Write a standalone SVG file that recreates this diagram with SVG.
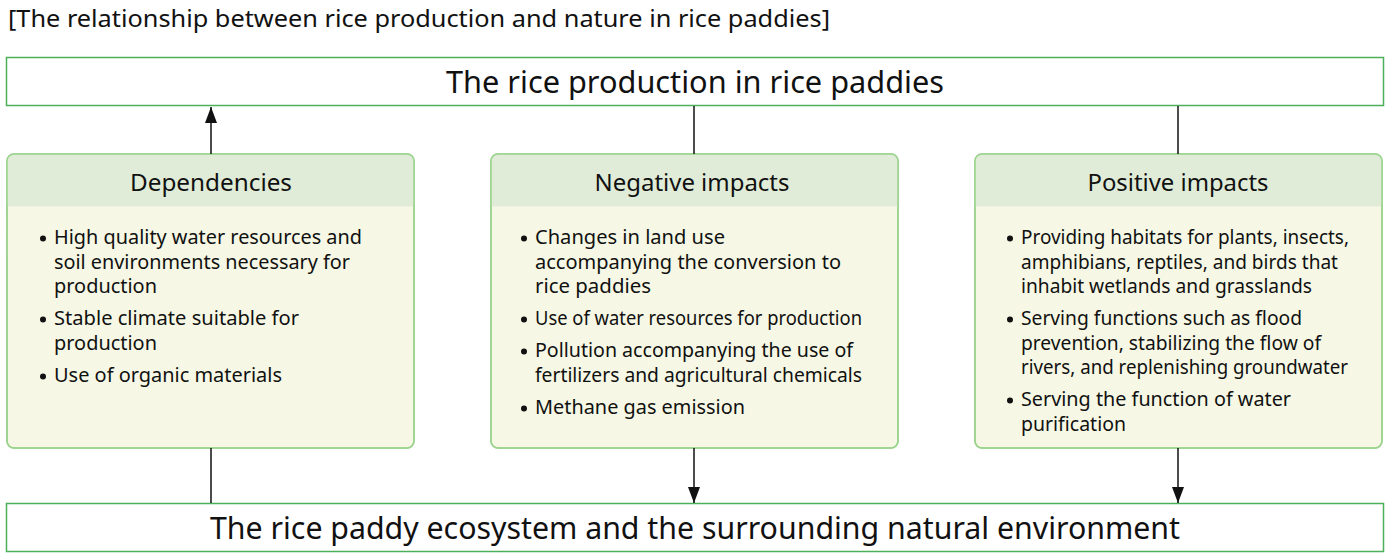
<svg xmlns="http://www.w3.org/2000/svg" width="1390" height="558" viewBox="0 0 1390 558">
<style>
text{font-family:"Noto Sans","Open Sans","Liberation Sans",sans-serif;fill:#111}
.big{fill:#fff;stroke:#4caf5a;stroke-width:1.5}
.panel{fill:#f6f8e5;stroke:#9ad38c;stroke-width:1.5}
.head{fill:#e0ecd7}
.t1{font-size:31px}
.h{font-size:23px;text-anchor:middle}
.b{font-size:19px}
.dot{fill:#111}
.conn line{stroke:#111;stroke-width:1.5}
</style>
<defs>
<marker id="arr" viewBox="0 0 16 12" refX="16" refY="6" markerWidth="16" markerHeight="12" markerUnits="userSpaceOnUse" orient="auto">
<path d="M0,0 L16,6 L0,12 z" fill="#111"/>
</marker>
<clipPath id="c1"><rect x="7" y="154" width="407" height="294" rx="7"/></clipPath>
<clipPath id="c2"><rect x="491" y="154" width="407" height="294" rx="7"/></clipPath>
<clipPath id="c3"><rect x="975" y="154" width="407" height="294" rx="7"/></clipPath>
</defs>

<text id="title" x="8" y="27" font-size="23" textLength="822" lengthAdjust="spacingAndGlyphs">[The relationship between rice production and nature in rice paddies]</text>

<g id="top">
<rect class="big" x="6.5" y="57.5" width="1377" height="48"/>
<text class="t1" x="446" y="93" textLength="498" lengthAdjust="spacingAndGlyphs">The rice production in rice paddies</text>
</g>

<g id="bottom">
<rect class="big" x="6.5" y="503.5" width="1377" height="48"/>
<text class="t1" x="210" y="539" textLength="970" lengthAdjust="spacingAndGlyphs">The rice paddy ecosystem and the surrounding natural environment</text>
</g>

<g id="dependencies">
<rect class="panel" x="7" y="154" width="407" height="294" rx="7"/>
<rect class="head" x="7" y="154" width="407" height="52.5" clip-path="url(#c1)"/>
<rect x="7" y="154" width="407" height="294" rx="7" fill="none" stroke="#9ad38c" stroke-width="1.5"/>
<text class="h" x="211" y="191" textLength="162" lengthAdjust="spacingAndGlyphs">Dependencies</text>
<circle class="dot" cx="43" cy="238.5" r="3"/>
<text class="b" x="54" y="244" textLength="308" lengthAdjust="spacingAndGlyphs">High quality water resources and</text>
<text class="b" x="54" y="269" textLength="296" lengthAdjust="spacingAndGlyphs">soil environments necessary for</text>
<text class="b" x="54" y="293" textLength="103" lengthAdjust="spacingAndGlyphs">production</text>
<circle class="dot" cx="43" cy="319.5" r="3"/>
<text class="b" x="54" y="325" textLength="245" lengthAdjust="spacingAndGlyphs">Stable climate suitable for</text>
<text class="b" x="54" y="350" textLength="103" lengthAdjust="spacingAndGlyphs">production</text>
<circle class="dot" cx="43" cy="376.5" r="3"/>
<text class="b" x="54" y="382" textLength="228" lengthAdjust="spacingAndGlyphs">Use of organic materials</text>
</g>

<g id="negative">
<rect class="panel" x="491" y="154" width="407" height="294" rx="7"/>
<rect class="head" x="491" y="154" width="407" height="52.5" clip-path="url(#c2)"/>
<rect x="491" y="154" width="407" height="294" rx="7" fill="none" stroke="#9ad38c" stroke-width="1.5"/>
<text class="h" x="692" y="191" textLength="195" lengthAdjust="spacingAndGlyphs">Negative impacts</text>
<circle class="dot" cx="524" cy="238.5" r="3"/>
<text class="b" x="535" y="244" textLength="190" lengthAdjust="spacingAndGlyphs">Changes in land use</text>
<text class="b" x="535" y="269" textLength="306" lengthAdjust="spacingAndGlyphs">accompanying the conversion to</text>
<text class="b" x="535" y="293" textLength="116" lengthAdjust="spacingAndGlyphs">rice paddies</text>
<circle class="dot" cx="524" cy="319.5" r="3"/>
<text class="b" x="535" y="325" textLength="327" lengthAdjust="spacingAndGlyphs">Use of water resources for production</text>
<circle class="dot" cx="524" cy="351.5" r="3"/>
<text class="b" x="535" y="357" textLength="318" lengthAdjust="spacingAndGlyphs">Pollution accompanying the use of</text>
<text class="b" x="535" y="382" textLength="327" lengthAdjust="spacingAndGlyphs">fertilizers and agricultural chemicals</text>
<circle class="dot" cx="524" cy="408.5" r="3"/>
<text class="b" x="535" y="414" textLength="210" lengthAdjust="spacingAndGlyphs">Methane gas emission</text>
</g>

<g id="positive">
<rect class="panel" x="975" y="154" width="407" height="294" rx="7"/>
<rect class="head" x="975" y="154" width="407" height="52.5" clip-path="url(#c3)"/>
<rect x="975" y="154" width="407" height="294" rx="7" fill="none" stroke="#9ad38c" stroke-width="1.5"/>
<text class="h" x="1178" y="191" textLength="181" lengthAdjust="spacingAndGlyphs">Positive impacts</text>
<circle class="dot" cx="1010" cy="238.5" r="3"/>
<text class="b" x="1021" y="244" textLength="328" lengthAdjust="spacingAndGlyphs">Providing habitats for plants, insects,</text>
<text class="b" x="1021" y="269" textLength="317" lengthAdjust="spacingAndGlyphs">amphibians, reptiles, and birds that</text>
<text class="b" x="1021" y="293" textLength="291" lengthAdjust="spacingAndGlyphs">inhabit wetlands and grasslands</text>
<circle class="dot" cx="1010" cy="319.5" r="3"/>
<text class="b" x="1021" y="325" textLength="281" lengthAdjust="spacingAndGlyphs">Serving functions such as flood</text>
<text class="b" x="1021" y="350" textLength="300" lengthAdjust="spacingAndGlyphs">prevention, stabilizing the flow of</text>
<text class="b" x="1021" y="374" textLength="327" lengthAdjust="spacingAndGlyphs">rivers, and replenishing groundwater</text>
<circle class="dot" cx="1010" cy="400.5" r="3"/>
<text class="b" x="1021" y="406" textLength="270" lengthAdjust="spacingAndGlyphs">Serving the function of water</text>
<text class="b" x="1021" y="431" textLength="105" lengthAdjust="spacingAndGlyphs">purification</text>
</g>

<g id="connectors" class="conn">
<line x1="211" y1="154" x2="211" y2="107" marker-end="url(#arr)"/>
<line x1="694" y1="106" x2="694" y2="154"/>
<line x1="1178" y1="106" x2="1178" y2="154"/>
<line x1="211" y1="448" x2="211" y2="503"/>
<line x1="694" y1="448" x2="694" y2="503" marker-end="url(#arr)"/>
<line x1="1178" y1="448" x2="1178" y2="503" marker-end="url(#arr)"/>
</g>
</svg>
